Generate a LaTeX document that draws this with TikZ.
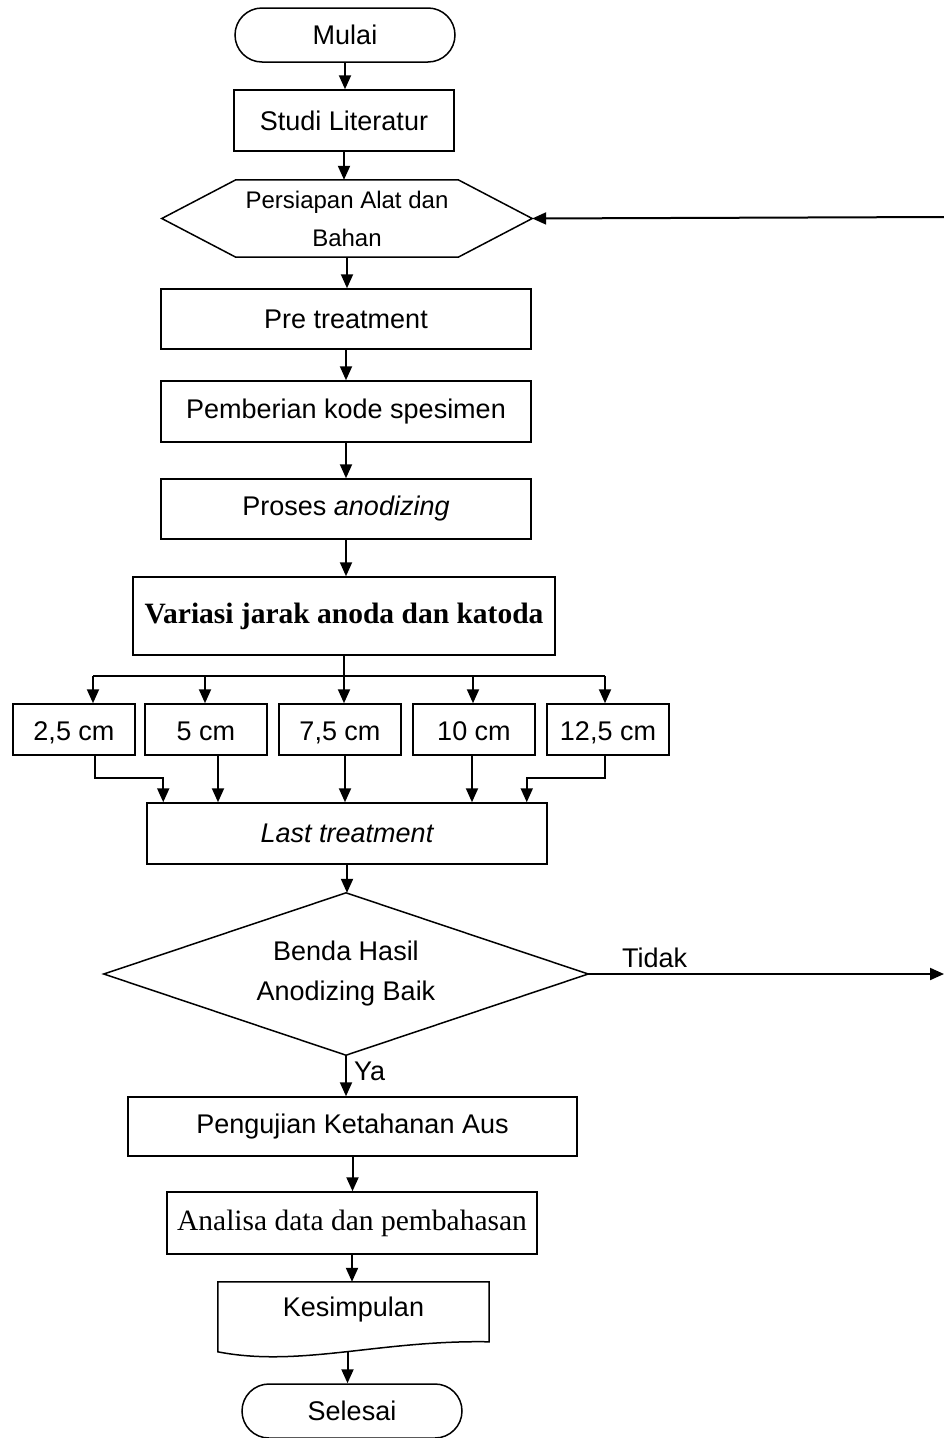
\documentclass[tikz,border=0pt]{standalone}
\usepackage{fontspec}
\setmainfont{Liberation Sans}
\newfontfamily\srf{Liberation Serif}
\usetikzlibrary{arrows.meta,calc}
\begin{document}
\begin{tikzpicture}[x=1pt,y=-1pt,
  every node/.style={font=\fontsize{27}{38}\selectfont, inner sep=0pt},
  boxed/.style={draw, line width=1.5pt, rectangle},
  termbox/.style={draw, line width=1.5pt, rectangle, rounded corners=27pt, minimum width=220pt, minimum height=54pt},
  smallbox/.style={draw, line width=1.5pt, rectangle, minimum width=122pt, minimum height=51pt, text height=22pt, text depth=1pt},
  arr/.style={line width=2pt, -{Triangle[length=14pt,width=12pt]}},
  ln/.style={line width=2pt},
  shp/.style={line width=1.5pt}
]
\useasboundingbox (0,0) rectangle (944,1438);

% main column
\node[termbox] (mulai) at (345,35) {Mulai};
\node[boxed, minimum width=220pt, minimum height=61pt] (studi) at (344,120.5) {Studi Literatur};
\node[minimum width=370pt, minimum height=77pt, align=center, font=\fontsize{24}{38}\selectfont] (prep) at (347,218.5) {Persiapan Alat dan\\Bahan};
\draw[shp] (prep.west) -- ($(prep.north west)+(74,0)$) -- ($(prep.north east)+(-74,0)$) -- (prep.east)
  -- ($(prep.south east)+(-74,0)$) -- ($(prep.south west)+(74,0)$) -- cycle;
\node[boxed, minimum width=370pt, minimum height=60pt] (pre) at (346,319) {Pre treatment};
\node[boxed, minimum width=370pt, minimum height=61pt] (kode) at (346,411.5) {Pemberian kode spesimen};
\node[boxed, minimum width=370pt, minimum height=60pt] (anod) at (346,509) {Proses \textit{anodizing}};
\node[boxed, minimum width=422pt, minimum height=78pt, font=\srf\bfseries\fontsize{29.5}{34}\selectfont] (var) at (344,616) {Variasi jarak anoda dan katoda};

% variation boxes
\node[smallbox] (b1) at (74,729.5) {2,5 cm};
\node[smallbox] (b2) at (206,729.5) {5 cm};
\node[smallbox] (b3) at (340,729.5) {7,5 cm};
\node[smallbox] (b4) at (474,729.5) {10 cm};
\node[smallbox] (b5) at (608,729.5) {12,5 cm};

\node[boxed, minimum width=400pt, minimum height=61pt, font=\itshape\fontsize{27}{38}\selectfont] (last) at (347,833.5) {Last treatment};

\node[minimum width=484pt, minimum height=162pt, align=center, font=\fontsize{27}{40}\selectfont] (dec) at (346,974) {Benda Hasil\\Anodizing Baik};
\draw[shp] (dec.north) -- (dec.east) -- (dec.south) -- (dec.west) -- cycle;

\node[boxed, minimum width=449pt, minimum height=59pt] (uji) at (352.5,1126.5) {Pengujian Ketahanan Aus};
\node[boxed, minimum width=370pt, minimum height=62pt, font=\srf\fontsize{29.5}{34}\selectfont] (anal) at (352,1223) {Analisa data dan pembahasan};
\node[minimum width=271pt, minimum height=56pt] (kes) at (353.5,1310) {Kesimpulan};
\draw[shp] (kes.north west) -- (kes.north east) -- ($(kes.north east)+(0,60)$)
  .. controls ($(kes.north east)+(-109,58)$) and ($(kes.north west)+(82,86)$) .. ($(kes.north west)+(0,70)$) -- cycle;
\coordinate (kesb) at ($(kes.south)+(-6,14)$);
\node[termbox] (sel) at (352,1411) {Selesai};

% labels
\node[anchor=west] (tidak) at (622,958) {Tidak};
\node[anchor=west] (ya) at (354,1071) {Ya};

% connectors main column
\draw[arr] (mulai.south) -- (mulai.south |- studi.north);
\draw[arr] (studi.south) -- (studi.south |- prep.north);
\draw[arr] (prep.south) -- (prep.south |- pre.north);
\draw[arr] (pre.south) -- (pre.south |- kode.north);
\draw[arr] (kode.south) -- (kode.south |- anod.north);
\draw[arr] (anod.south) -- (anod.south |- var.north);

% split
\coordinate (split) at (344,676);
\coordinate (t1) at (93,676);
\coordinate (t2) at (205,676);
\coordinate (t4) at (473,676);
\coordinate (t5) at (605,676);
\draw[ln] (var.south) -- (split);
\draw[ln] (t1) -- (t5);
\draw[arr] (t1) -- (t1 |- b1.north);
\draw[arr] (t2) -- (t2 |- b2.north);
\draw[arr] (split) -- (split |- b3.north);
\draw[arr] (t4) -- (t4 |- b4.north);
\draw[arr] (t5) -- (t5 |- b5.north);

% merge
\coordinate (m1) at ($(b1.south)+(21,0)$);
\coordinate (m2) at ($(b2.south)+(12,0)$);
\coordinate (m3) at ($(b3.south)+(5,0)$);
\coordinate (m4) at ($(b4.south)+(-2,0)$);
\coordinate (m5) at ($(b5.south)+(-3,0)$);
\coordinate (e1) at ($(last.north west)+(17,0)$);
\coordinate (e5) at ($(last.north east)+(-21,0)$);
\draw[arr] (m1) -- ++(0,22) -| (e1);
\draw[arr] (m2) -- (m2 |- last.north);
\draw[arr] (m3) -- (m3 |- last.north);
\draw[arr] (m4) -- (m4 |- last.north);
\draw[arr] (m5) -- ++(0,22) -| (e5);

\draw[arr] (last.south) -- (last.south |- dec.north);

% decision
\coordinate (rtout) at (944,974);
\coordinate (rtin) at (944,217);
\draw[arr] (dec.east) -- (rtout);
\draw[arr] (rtin) -- (prep.east);
\draw[arr] (dec.south) -- (dec.south |- uji.north);

\draw[arr] (uji.south) -- (uji.south |- anal.north);
\draw[arr] (anal.south) -- (anal.south |- kes.north);
\draw[arr] (kesb) -- (kesb |- sel.north);
\end{tikzpicture}
\end{document}
